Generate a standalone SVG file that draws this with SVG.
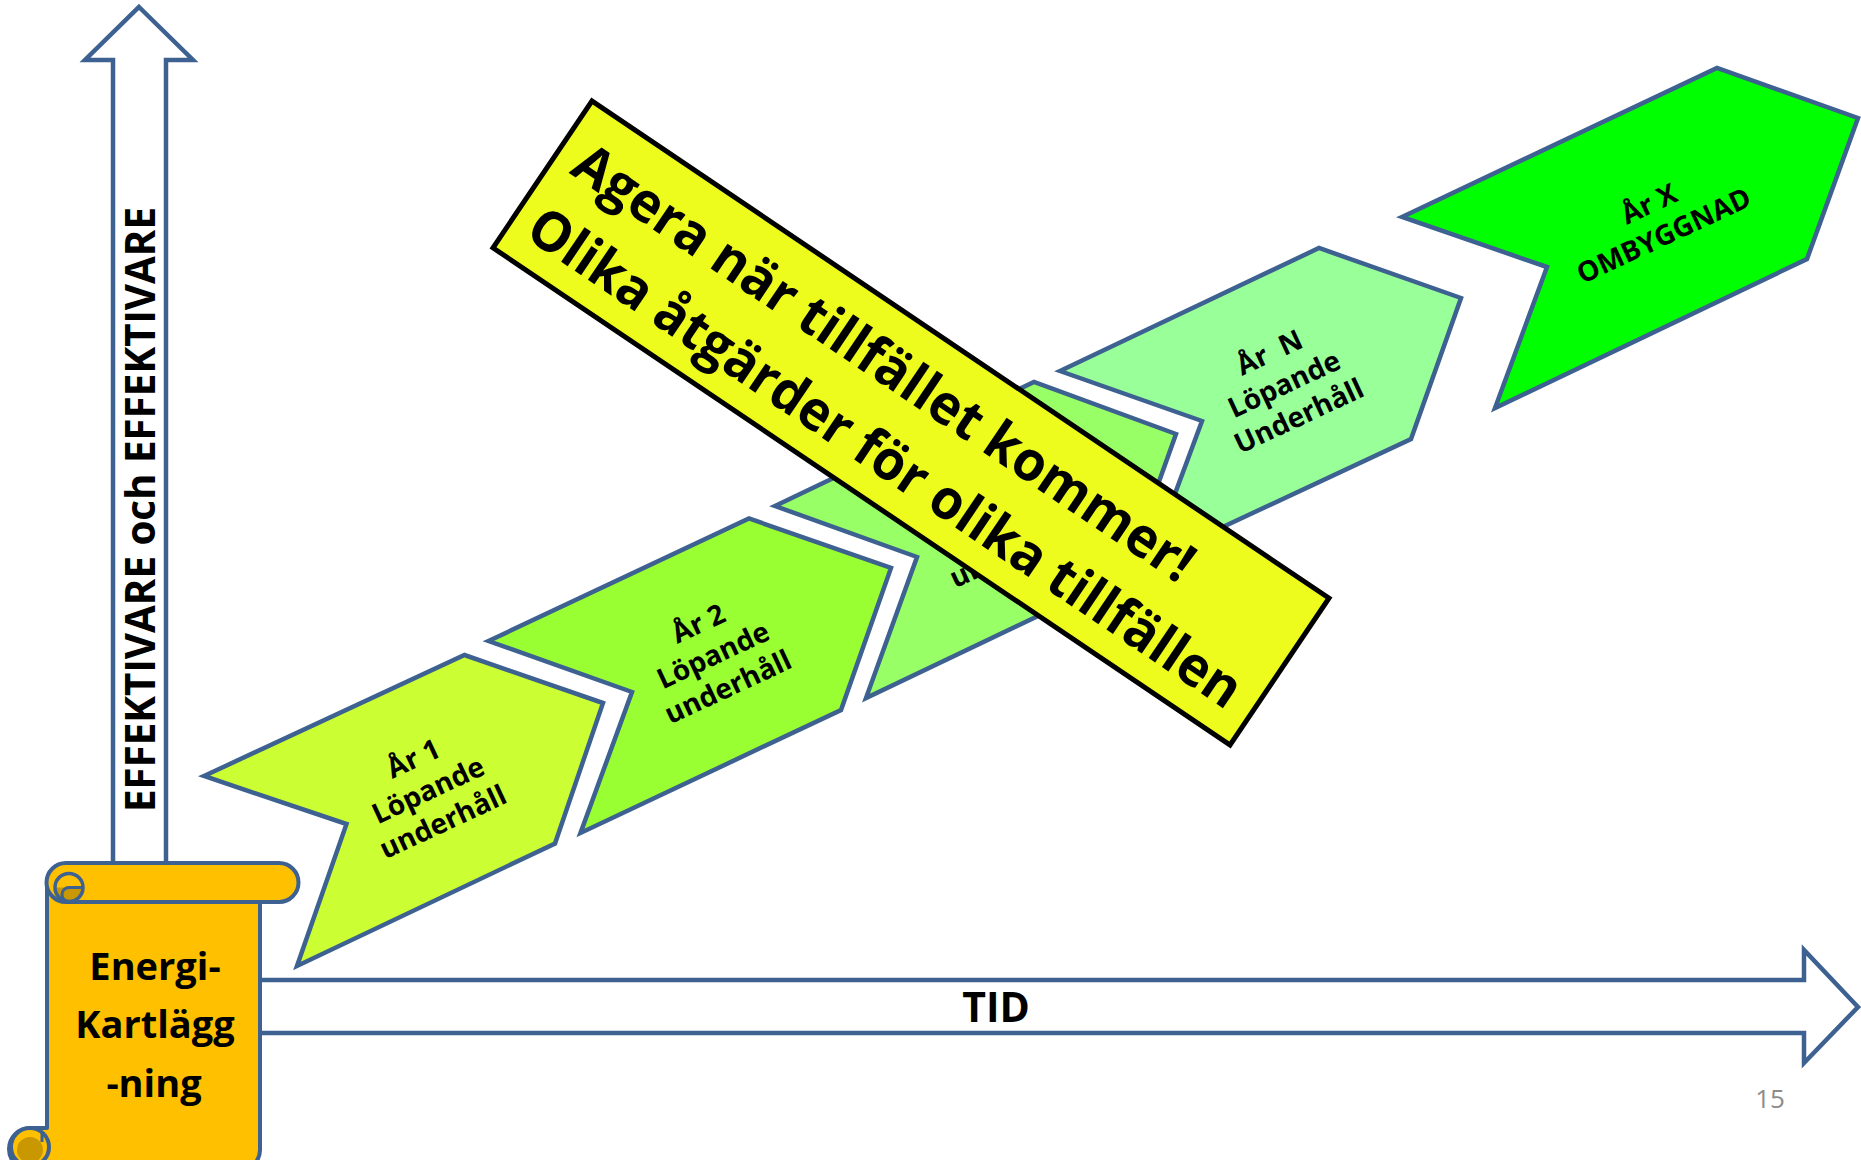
<svg xmlns="http://www.w3.org/2000/svg" width="1861" height="1160" viewBox="0 0 1861 1160">
  <style>
    .blk { fill: #ffffff; stroke: #3d6190; stroke-width: 4.5; stroke-linejoin: miter; }
    .chev { stroke: #3d6190; stroke-width: 4.5; stroke-linejoin: miter; }
    .lbl { font-family: "Open Sans", "Liberation Sans", sans-serif; font-weight: bold; font-size: 28px; fill: #000000; text-anchor: middle; }
    .big { font-family: "Open Sans", "Liberation Sans", sans-serif; font-weight: bold; fill: #000000; }
    .scroll { fill: #ffc000; stroke: #3d6190; stroke-width: 4; stroke-linejoin: round; }
  </style>

  <!-- axes (block arrows) -->
  <g id="axis-y">
    <polygon class="blk" points="139,7 193,60 166,60 166,885 113,885 113,60 85,60"/>
    <text class="big" font-size="41" text-anchor="middle" textLength="605" lengthAdjust="spacingAndGlyphs" transform="translate(155,509.5) rotate(-90)" x="0" y="0">EFFEKTIVARE och EFFEKTIVARE</text>
  </g>
  <g id="axis-x">
    <polygon class="blk" points="240,980 1804,980 1804,950 1858,1007 1804,1063 1804,1033 240,1033"/>
    <text class="big" font-size="41" text-anchor="middle" x="996" y="1022">TID</text>
  </g>

  <!-- scroll: Energi-Kartläggning -->
  <g id="scroll">
    <path class="scroll" d="M47,884 V1128 H30 A19,19 0 0 0 30,1170 H240 A20,20 0 0 0 260,1150 V898 Z"/>
    <path class="scroll" d="M66,863 H279 A19.5,19.5 0 0 1 279,902 H66 A19.5,19.5 0 0 1 66,863 Z"/>
    <circle cx="69" cy="887.5" r="14" fill="#ffc000" stroke="none"/>
    <path d="M55,887.5 A14,14 0 0 0 83,887.5 Z" fill="#c99700" stroke="none"/>
    <path d="M69,901.5 A7,7 0 0 1 69,887.5 H83" fill="none" stroke="#3d6190" stroke-width="3"/>
    <circle cx="69" cy="887.5" r="14" fill="none" stroke="#3d6190" stroke-width="3.5"/>
    <circle cx="30" cy="1147" r="19" fill="#ffc000" stroke="#3d6190" stroke-width="4"/>
    <circle cx="30" cy="1150" r="13" fill="#c99700" stroke="none"/>
    <path d="M42,1132 V1142" fill="none" stroke="#3d6190" stroke-width="3"/>
    <text class="big" font-size="38" text-anchor="middle" x="155" y="980">Energi-</text>
    <text class="big" font-size="38" text-anchor="middle" x="155" y="1038">Kartlägg</text>
    <text class="big" font-size="38" text-anchor="middle" x="154" y="1097">-ning</text>
  </g>

  <!-- chevrons -->
  <g id="ar1">
    <polygon class="chev" fill="#ccff33" points="204,776 464.5,655 603,703 555,843.5 297,966 346.5,824"/>
    <g transform="translate(428,790) rotate(-25)">
      <text class="lbl" x="0" y="-25">År 1</text>
      <text class="lbl" x="0" y="10">Löpande</text>
      <text class="lbl" x="0" y="45">underhåll</text>
    </g>
  </g>
  <g id="ar2">
    <polygon class="chev" fill="#99ff33" points="488.5,641 749,518.5 891,568 841,710 580.5,833 632,692"/>
    <g transform="translate(713,655) rotate(-25)">
      <text class="lbl" x="0" y="-25">År 2</text>
      <text class="lbl" x="0" y="10">Löpande</text>
      <text class="lbl" x="0" y="45">underhåll</text>
    </g>
  </g>
  <g id="ar3">
    <polygon class="chev" fill="#99ff66" points="775,506 1034,382 1176,434 1126,574 866,698 917,557"/>
    <g transform="translate(998,519) rotate(-25)">
      <text class="lbl" x="0" y="45">underhåll</text>
    </g>
  </g>
  <g id="arN">
    <polygon class="chev" fill="#99ff99" points="1060,371 1319,248 1461,298 1411,439 1150,561 1202,421"/>
    <g transform="translate(1284,384) rotate(-25)">
      <text class="lbl" x="0" y="-25" xml:space="preserve">År  N</text>
      <text class="lbl" x="0" y="10">Löpande</text>
      <text class="lbl" x="0" y="45">Underhåll</text>
    </g>
  </g>
  <g id="arX">
    <polygon class="chev" fill="#00ff00" points="1402,217 1717,68 1858,118 1807,259 1495,408 1547,267"/>
    <g transform="translate(1656,219) rotate(-25)">
      <text class="lbl" x="0" y="-7">År X</text>
      <text class="lbl" x="0" y="28">OMBYGGNAD</text>
    </g>
  </g>

  <!-- callout box -->
  <g id="callout" transform="translate(911,423) rotate(34)">
    <rect x="-444.5" y="-88.5" width="889" height="177" fill="#edfc1c" stroke="#000000" stroke-width="5"/>
    <text class="big" font-size="55" x="-424" y="-16" textLength="736" lengthAdjust="spacingAndGlyphs">Agera när tillfället kommer!</text>
    <text class="big" font-size="55" x="-426" y="62" textLength="848" lengthAdjust="spacingAndGlyphs">Olika åtgärder för olika tillfällen</text>
  </g>

  <g id="connectors"/>

  <text x="1770" y="1108" font-family="'Open Sans', 'Liberation Sans', sans-serif" font-size="26" fill="#8c8c8c" text-anchor="middle">15</text>
</svg>
